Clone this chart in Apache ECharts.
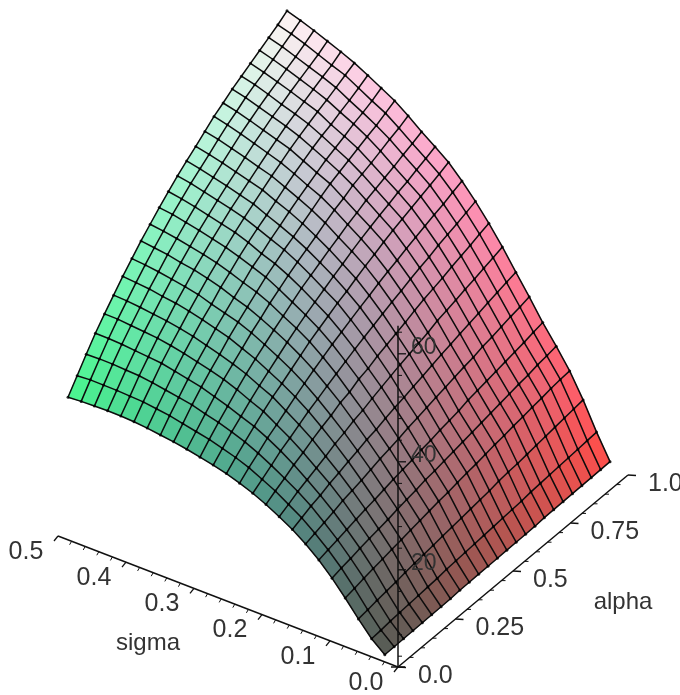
<!DOCTYPE html>
<html>
<head>
<meta charset="utf-8">
<script src="https://cdn.jsdelivr.net/npm/echarts@6/dist/echarts.min.js"></script>
<style>
  html, body { margin: 0; padding: 0; background: #fff; }
  #main { width: 680px; height: 695px; }
</style>
</head>
<body>
<div id="main"></div>
<script>
// grid of the surface
var sigmas = [0.02, 0.04, 0.06, 0.08, 0.10, 0.12, 0.14, 0.16, 0.18, 0.20, 0.22, 0.24, 0.26, 0.28, 0.30, 0.32, 0.34, 0.36, 0.38, 0.40, 0.42, 0.44, 0.46, 0.48, 0.50];
var alphas = [0, 0.0417, 0.0833, 0.125, 0.1667, 0.2083, 0.25, 0.2917, 0.3333, 0.375, 0.4167, 0.4583, 0.5, 0.5417, 0.5833, 0.625, 0.6667, 0.7083, 0.75, 0.7917, 0.8333, 0.875, 0.9167, 0.9583, 1];

// heights, one row per sigma, alpha going left to right
var heights = [
  [3.3, 3.3, 3.3, 3.3, 3.3, 3.3, 3.3, 3.3, 3.4, 3.4, 3.4, 3.4, 3.4, 3.4, 3.4, 3.4, 3.4, 3.5, 3.5, 3.5, 3.5, 3.5, 3.5, 3.5, 3.5],
  [5.3, 5.4, 5.6, 5.7, 5.8, 5.9, 6.0, 6.1, 6.3, 6.4, 6.5, 6.6, 6.7, 6.8, 6.9, 7.0, 7.1, 7.3, 7.4, 7.5, 7.6, 7.7, 7.8, 7.9, 8.0],
  [8.0, 8.2, 8.5, 8.7, 8.9, 9.2, 9.4, 9.6, 9.8, 10.0, 10.2, 10.4, 10.6, 10.8, 11.0, 11.3, 11.5, 11.6, 11.8, 12.0, 12.2, 12.4, 12.6, 12.8, 13.0],
  [10.9, 11.2, 11.6, 11.9, 12.2, 12.5, 12.8, 13.1, 13.4, 13.7, 14.0, 14.2, 14.5, 14.8, 15.0, 15.3, 15.6, 15.8, 16.1, 16.3, 16.6, 16.8, 17.1, 17.3, 17.4],
  [13.6, 14.0, 14.3, 14.7, 15.0, 15.3, 15.6, 16.0, 16.3, 16.6, 17.0, 17.2, 17.5, 17.8, 18.1, 18.4, 18.7, 19.0, 19.3, 19.6, 19.9, 20.1, 20.5, 20.7, 21.0],
  [16.0, 16.4, 16.8, 17.2, 17.6, 18.0, 18.3, 18.7, 19.1, 19.4, 19.7, 20.1, 20.4, 20.8, 21.1, 21.4, 21.9, 22.2, 22.5, 22.8, 23.1, 23.4, 23.7, 24.1, 24.4],
  [18.0, 18.5, 19.0, 19.5, 20.1, 20.5, 20.9, 21.4, 21.9, 22.3, 22.7, 23.2, 23.6, 24.0, 24.4, 24.8, 25.2, 25.6, 25.9, 26.4, 26.7, 27.1, 27.5, 27.8, 28.2],
  [19.7, 20.4, 21.1, 21.6, 22.3, 22.8, 23.4, 23.9, 24.5, 24.9, 25.5, 26.0, 26.4, 26.9, 27.4, 27.9, 28.4, 28.8, 29.3, 29.7, 30.1, 30.6, 31.0, 31.4, 31.8],
  [21.1, 21.9, 22.8, 23.5, 24.2, 24.9, 25.7, 26.3, 27.0, 27.5, 28.2, 28.8, 29.4, 30.0, 30.5, 31.0, 31.5, 32.2, 32.6, 33.1, 33.6, 34.0, 34.5, 35.0, 35.5],
  [22.4, 23.4, 24.3, 25.3, 26.1, 27.0, 27.8, 28.5, 29.4, 29.9, 30.8, 31.3, 32.1, 32.7, 33.3, 33.9, 34.6, 35.2, 35.7, 36.2, 36.8, 37.3, 37.8, 38.4, 38.9],
  [23.5, 24.6, 25.7, 26.9, 27.8, 28.8, 29.8, 30.6, 31.5, 32.3, 33.1, 33.9, 34.6, 35.3, 36.0, 36.7, 37.3, 38.0, 38.6, 39.1, 39.8, 40.3, 40.8, 41.4, 42.0],
  [24.4, 25.8, 27.0, 28.3, 29.3, 30.4, 31.5, 32.5, 33.5, 34.4, 35.3, 36.1, 36.9, 37.7, 38.4, 39.2, 39.9, 40.5, 41.2, 41.8, 42.4, 43.0, 43.5, 44.2, 44.8],
  [25.2, 26.7, 28.1, 29.5, 30.8, 32.0, 33.0, 34.1, 35.2, 36.3, 37.2, 38.1, 39.0, 39.7, 40.6, 41.4, 42.1, 42.9, 43.6, 44.2, 44.8, 45.4, 46.0, 46.6, 47.3],
  [25.8, 27.4, 29.0, 30.4, 31.8, 33.1, 34.3, 35.5, 36.7, 37.8, 38.8, 39.7, 40.6, 41.5, 42.3, 43.2, 44.0, 44.7, 45.4, 46.0, 46.7, 47.2, 47.9, 48.5, 49.2],
  [26.3, 28.1, 29.8, 31.3, 32.9, 34.3, 35.6, 36.8, 38.0, 39.1, 40.2, 41.3, 42.2, 43.1, 44.0, 44.8, 45.7, 46.4, 47.2, 47.8, 48.4, 49.0, 49.7, 50.3, 51.0],
  [26.8, 28.6, 30.4, 32.1, 33.8, 35.2, 36.6, 38.0, 39.2, 40.5, 41.6, 42.7, 43.7, 44.6, 45.5, 46.5, 47.4, 48.1, 49.0, 49.6, 50.2, 50.9, 51.6, 52.2, 53.0],
  [27.2, 29.1, 31.1, 32.9, 34.5, 36.0, 37.6, 39.0, 40.3, 41.6, 42.9, 43.9, 45.0, 45.9, 46.9, 47.9, 48.9, 49.8, 50.5, 51.2, 51.9, 52.6, 53.2, 54.0, 54.8],
  [27.5, 29.6, 31.5, 33.4, 35.1, 36.7, 38.3, 39.7, 41.1, 42.4, 43.8, 44.8, 46.0, 47.0, 48.1, 49.1, 50.0, 50.9, 51.8, 52.5, 53.2, 54.0, 54.6, 55.3, 56.2],
  [27.8, 29.9, 31.9, 33.9, 35.7, 37.4, 39.0, 40.4, 42.0, 43.3, 44.7, 45.9, 47.0, 48.0, 49.1, 50.2, 51.2, 52.1, 53.0, 53.8, 54.4, 55.2, 55.9, 56.7, 57.6],
  [28.0, 30.2, 32.3, 34.4, 36.2, 37.9, 39.6, 41.2, 42.7, 44.1, 45.5, 46.8, 48.0, 49.1, 50.2, 51.3, 52.3, 53.3, 54.2, 55.0, 55.8, 56.5, 57.3, 58.1, 58.9],
  [28.1, 30.3, 32.6, 34.6, 36.6, 38.3, 40.1, 41.7, 43.3, 44.7, 46.1, 47.4, 48.7, 49.8, 50.9, 52.0, 53.1, 54.1, 55.1, 55.9, 56.7, 57.5, 58.3, 59.0, 60.0],
  [28.1, 30.4, 32.7, 34.8, 36.8, 38.6, 40.4, 42.1, 43.7, 45.2, 46.7, 48.0, 49.3, 50.5, 51.6, 52.8, 53.9, 54.9, 55.9, 56.7, 57.6, 58.4, 59.2, 60.0, 61.0],
  [28.0, 30.4, 32.8, 35.0, 37.0, 38.9, 40.8, 42.5, 44.2, 45.7, 47.2, 48.6, 49.9, 51.1, 52.3, 53.5, 54.7, 55.7, 56.7, 57.6, 58.4, 59.3, 60.1, 61.0, 62.0],
  [27.9, 30.4, 32.8, 35.1, 37.2, 39.1, 41.0, 42.8, 44.5, 46.1, 47.7, 49.1, 50.5, 51.7, 52.9, 54.2, 55.4, 56.4, 57.5, 58.4, 59.2, 60.1, 61.0, 61.9, 62.9],
  [27.7, 30.2, 32.7, 35.1, 37.2, 39.2, 41.2, 43.0, 44.8, 46.4, 48.0, 49.5, 50.9, 52.2, 53.4, 54.7, 56.0, 57.0, 58.1, 59.0, 59.9, 60.8, 61.7, 62.6, 63.7]
];

// axis ticks
var sigmaLabels = [0, 0.1, 0.2, 0.3, 0.4, 0.5];
var sigmaMinor = [0.02, 0.04, 0.06, 0.08, 0.12, 0.14, 0.16, 0.18, 0.22, 0.24, 0.26, 0.28, 0.32, 0.34, 0.36, 0.38, 0.42, 0.44, 0.46, 0.48];
var alphaLabels = [0, 0.25, 0.5, 0.75, 1];
var alphaLabelText = ["0.0", "0.25", "0.5", "0.75", "1.0"];
var alphaMinor = [0.05, 0.1, 0.15, 0.2, 0.3, 0.35, 0.4, 0.45, 0.55, 0.6, 0.65, 0.7, 0.8, 0.85, 0.9, 0.95];
var heightLabels = [20, 40, 60];
var heightMinor = [4, 8, 12, 16, 24, 28, 32, 36, 44, 48, 52, 56, 64];
var heightMin = 2;
var heightMax = 65.2;

var FONT = '"Liberation Sans", Arial, sans-serif';
var TEXT_COLOR = "#333";

// fixed view of the box, in page pixels
function project(s, a, z) {
  return [398 - 680 * s + 230 * a, 667 - 262 * s - 192 * a - 5.4 * (z - heightMin)];
}
// the surface sits a bit inside the axes because of the perspective
function surfacePoint(i, j) {
  var s = sigmas[i], a = alphas[j];
  var p = project(s, a, heights[i][j]);
  return [p[0] + 20 * s - 4.5 * a - 13 * s * a, p[1]];
}
function cellColor(i, j) {
  var s = (sigmas[i] + sigmas[i + 1]) / 2;
  var a = (alphas[j] + alphas[j + 1]) / 2;
  var z = (heights[i][j] + heights[i + 1][j] + heights[i][j + 1] + heights[i + 1][j + 1]) / 4;
  var t = (s - 0.02) / 0.48;
  var lift = 14 * (1 - a) * (1 - t);
  var r = 72 + 183 * a + lift;
  var g = 76 + 170 * t + lift;
  var b = 70 + 175 * (z - 3.3) / 60.4 + lift;
  return "rgb(" + Math.round(r) + "," + Math.round(g) + "," + Math.round(b) + ")";
}

var cells = [];
for (var i = 0; i < sigmas.length - 1; i++) {
  for (var j = 0; j < alphas.length - 1; j++) {
    cells.push([i, j]);
  }
}

var meshLines = [];
var meshKnots = [];
sigmas.forEach(function (s, i) {
  meshLines.push(alphas.map(function (a, j) {
    meshKnots.push(surfacePoint(i, j));
    return surfacePoint(i, j);
  }));
});
alphas.forEach(function (a, j) {
  meshLines.push(sigmas.map(function (s, i) { return surfacePoint(i, j); }));
});

// axis segments as [x1, y1, x2, y2, width]
var axisSegments = [];
function addSegment(p, dx, dy, w) {
  axisSegments.push([p[0], p[1], p[0] + dx, p[1] + dy, w]);
}
var axisEnd = project(0.5, 0, heightMin);
axisSegments.push([398, 667, axisEnd[0], axisEnd[1], 1.5]);
axisEnd = project(0, 1, heightMin);
axisSegments.push([398, 667, axisEnd[0], axisEnd[1], 1.5]);
axisEnd = project(0, 0, heightMax);
axisSegments.push([398, 667, axisEnd[0], axisEnd[1], 1.5]);
sigmaLabels.forEach(function (v) { addSegment(project(v, 0, heightMin), -4, 5, 1.3); });
sigmaMinor.forEach(function (v) { addSegment(project(v, 0, heightMin), -2, 3.5, 1); });
alphaLabels.forEach(function (v) { addSegment(project(0, v, heightMin), 8, 0.5, 1.3); });
alphaMinor.forEach(function (v) { addSegment(project(0, v, heightMin), 4, 0, 1); });
heightLabels.forEach(function (v) { addSegment(project(0, 0, v), 8, 0, 1.3); });
heightMinor.forEach(function (v) { addSegment(project(0, 0, v), 4, 0, 1); });
addSegment(project(0, 0, heightMin), -7, 0, 1.5);
addSegment(project(0, 0, heightMin), 7, 0, 1.5);

// labels as [x, y, text, align, size]
var axisTexts = [];
sigmaLabels.forEach(function (v) {
  var p = project(v, 0, heightMin);
  axisTexts.push([p[0] - 32, p[1] + 16, v.toFixed(1), "center", 25]);
});
alphaLabels.forEach(function (v, k) {
  var p = project(0, v, heightMin);
  axisTexts.push([p[0] + 20, p[1] + 9, alphaLabelText[k], "left", 25]);
});
heightLabels.forEach(function (v) {
  var p = project(0, 0, v);
  axisTexts.push([p[0] + 13, p[1] - 6, String(v), "left", 23]);
});
var titlePos = project(0.25, 0, heightMin);
axisTexts.push([titlePos[0] - 80, titlePos[1] + 42, "sigma", "center", 24]);
titlePos = project(0, 0.5, heightMin);
axisTexts.push([titlePos[0] + 110, titlePos[1] + 31, "alpha", "center", 24]);

var chart = echarts.init(document.getElementById("main"));
chart.setOption({
  animation: false,
  grid: { left: 0, right: 0, top: 0, bottom: 0 },
  xAxis: { type: "value", min: 0, max: 680, show: false },
  yAxis: { type: "value", min: 0, max: 695, inverse: true, show: false },
  series: [
    {
      type: "custom",
      coordinateSystem: "cartesian2d",
      data: cells,
      silent: true,
      clip: false,
      encode: { x: 0, y: 1 },
      renderItem: function (params, api) {
        var i = api.value(0), j = api.value(1);
        var pts = [surfacePoint(i, j), surfacePoint(i, j + 1), surfacePoint(i + 1, j + 1), surfacePoint(i + 1, j)];
        var color = cellColor(i, j);
        return {
          type: "polygon",
          shape: { points: pts.map(function (p) { return api.coord(p); }) },
          style: { fill: color, stroke: color, lineWidth: 0.5 }
        };
      }
    },
    {
      type: "custom",
      coordinateSystem: "cartesian2d",
      data: meshLines.map(function (l, k) { return [k]; }),
      silent: true,
      clip: false,
      renderItem: function (params, api) {
        return {
          type: "polyline",
          shape: { points: meshLines[api.value(0)].map(function (p) { return api.coord(p); }) },
          style: { fill: null, stroke: "#0c0c0c", lineWidth: 1.5 }
        };
      }
    },
    {
      type: "scatter",
      data: meshKnots,
      symbol: "circle",
      symbolSize: 3,
      silent: true,
      itemStyle: { color: "#000" }
    },
    {
      type: "custom",
      coordinateSystem: "cartesian2d",
      data: axisSegments,
      silent: true,
      clip: false,
      renderItem: function (params, api) {
        var a = api.coord([api.value(0), api.value(1)]);
        var b = api.coord([api.value(2), api.value(3)]);
        return {
          type: "line",
          shape: { x1: a[0], y1: a[1], x2: b[0], y2: b[1] },
          style: { stroke: "#111", lineWidth: api.value(4) }
        };
      }
    },
    {
      type: "custom",
      coordinateSystem: "cartesian2d",
      data: axisTexts.map(function (t, k) { return [k]; }),
      silent: true,
      clip: false,
      renderItem: function (params, api) {
        var t = axisTexts[api.value(0)];
        var p = api.coord([t[0], t[1]]);
        return {
          type: "text",
          style: {
            x: p[0], y: p[1], text: t[2], fill: TEXT_COLOR,
            font: t[4] + "px " + FONT, align: t[3], verticalAlign: "middle"
          }
        };
      }
    }
  ]
});
</script>
</body>
</html>
